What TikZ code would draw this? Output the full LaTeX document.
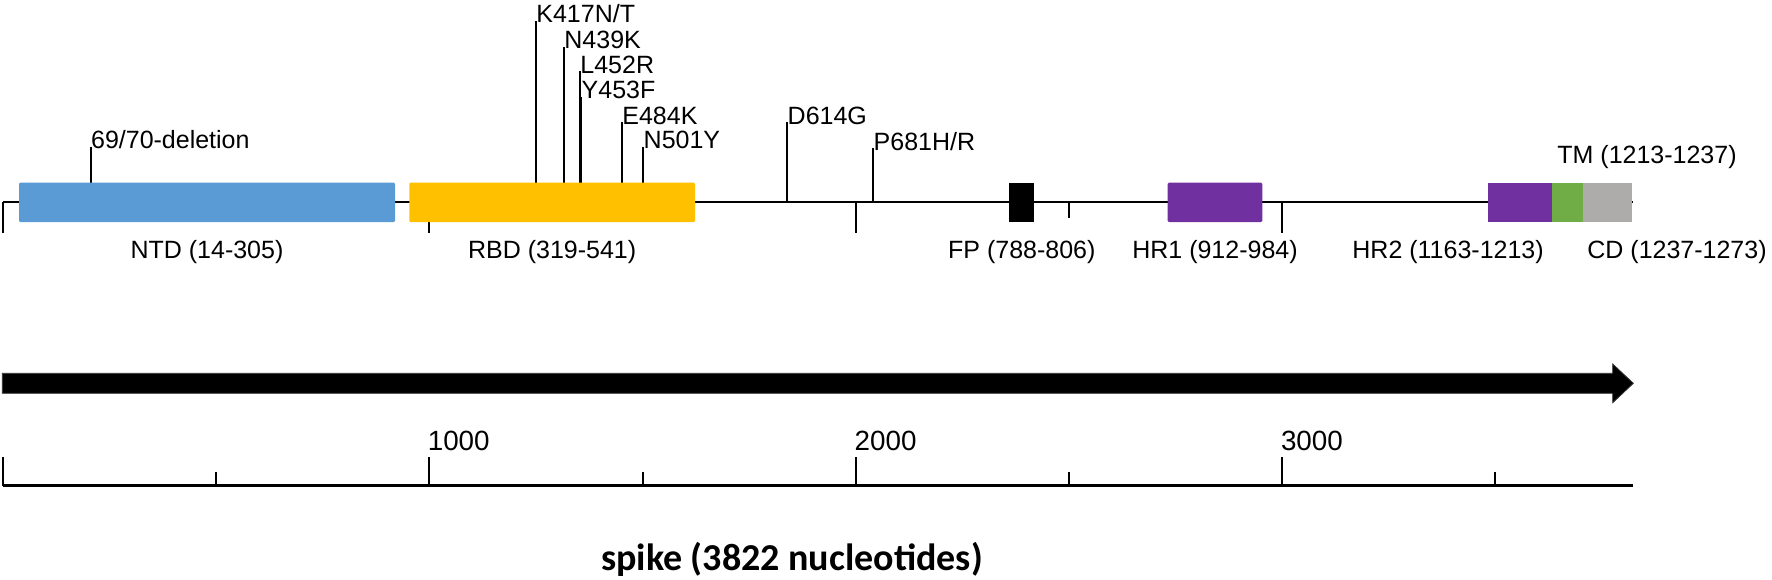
\documentclass[tikz,border=0pt]{standalone}
\usepackage{fontspec}
\setmainfont{Liberation Sans}
\newfontfamily\calib{Carlito}
\definecolor{ntdblue}{HTML}{5B9BD5}
\definecolor{rbdgold}{HTML}{FFC000}
\definecolor{hrpurple}{HTML}{7030A0}
\definecolor{tmgreen}{HTML}{70AD47}
\definecolor{cdgray}{HTML}{AEABAB}
\begin{document}
\begin{tikzpicture}[x=0.5pt,y=-0.5pt,
  lbl/.style={inner sep=0pt, font=\fontsize{12.5pt}{14pt}\selectfont},
  axlbl/.style={inner sep=0pt, anchor=base west, font=\fontsize{13.9pt}{15pt}\selectfont},
  ln/.style={line width=1.15pt},
  tk/.style={line width=1pt},
  dom/.style={rounded corners=0.6pt}]
\useasboundingbox (0,0) rectangle (1772,579);
% protein line
\coordinate (pl0) at (3.3,201.7);
\coordinate (pl1) at (1633,201.7);
\draw[ln] (pl0) -- (pl1);
% top scale ticks
\foreach \i in {0,1,2,3}{
  \coordinate (ta\i) at (3.3+\i*426.1,201.7);
  \coordinate (tb\i) at (3.3+\i*426.1,232.7);
  \draw[tk] (ta\i) -- (tb\i);
  \coordinate (tc\i) at (216.4+\i*426.1,201.7);
  \coordinate (td\i) at (216.4+\i*426.1,217.7);
  \draw[tk] (tc\i) -- (td\i);
}
% mutation ticks and labels
\foreach \x/\ty/\by/\txt/\nm in {
  90.7/146.7/183/{69/70-deletion}/m1,
  536/20.7/183/{K417N/T}/m2,
  564/46.7/183/{N439K}/m3,
  580/71/183/{L452R}/m4,
  581.3/96.7/183/{Y453F}/m5,
  622/122.3/183/{E484K}/m6,
  643.3/146.7/183/{N501Y}/m7,
  787.3/122.3/201.7/{D614G}/m8,
  873.3/148.3/201.7/{P681H/R}/m9}{
  \coordinate (\nm-t) at (\x,\ty);
  \coordinate (\nm-b) at (\x,\by);
  \draw[tk] (\nm-b) -- (\nm-t);
  \node[lbl, anchor=base west] (\nm) at (\x,\ty+2) {\txt};
}
% domains
\fill[dom, ntdblue] (19,182.7) rectangle (395,222);
\fill[dom, rbdgold] (409.3,182.7) rectangle (695,222);
\fill[black] (1009.3,182.7) rectangle (1034.3,222);
\fill[dom, hrpurple] (1167.7,182.7) rectangle (1262.3,222);
\fill[hrpurple] (1488.3,182.7) rectangle (1552.3,222);
\fill[tmgreen] (1552.3,182.7) rectangle (1583.3,222);
\fill[cdgray] (1583.3,182.7) rectangle (1631.7,222);
% domain labels
\node[lbl, anchor=base] (ntd) at (207,258.3) {NTD (14-305)};
\node[lbl, anchor=base] (rbd) at (552.2,258.3) {RBD (319-541)};
\node[lbl, anchor=base] (fp) at (1021.8,258.3) {FP (788-806)};
\node[lbl, anchor=base] (hr1) at (1215,258.3) {HR1 (912-984)};
\node[lbl, anchor=base west] (hr2) at (1352,258.3) {HR2 (1163-1213)};
\node[lbl, anchor=base west] (cd) at (1587,258.3) {CD (1237-1273)};
\node[lbl, anchor=base west] (tm) at (1557,163.3) {TM (1213-1237)};
% big arrow
\filldraw[fill=black, draw=black!80, line width=0.4pt, line join=miter]
  (2.3,373.3) -- (1612.7,373.3) -- (1612.7,364) -- (1633.3,383.3)
  -- (1612.7,402.7) -- (1612.7,393.3) -- (2.3,393.3) -- cycle;
% nucleotide scale
\coordinate (s0) at (3.3,485.7);
\coordinate (s1) at (1632.7,485.7);
\draw[line width=1.3pt] (s0) -- (s1);
\foreach \i in {0,1,2,3}{
  \coordinate (sa\i) at (3.3+\i*426.1,485.7);
  \coordinate (sb\i) at (3.3+\i*426.1,456.7);
  \draw[tk] (sa\i) -- (sb\i);
  \coordinate (sc\i) at (216.4+\i*426.1,485.7);
  \coordinate (sd\i) at (216.4+\i*426.1,471.7);
  \draw[tk] (sc\i) -- (sd\i);
}
\node[axlbl] (k1) at (427.4,450) {1000};
\node[axlbl] (k2) at (854.3,450) {2000};
\node[axlbl] (k3) at (1280.6,450) {3000};
\node[inner sep=0pt, anchor=base, font=\calib\bfseries\fontsize{19pt}{21pt}\selectfont] (title) at (792,570) {spike (3822 nucleotides)};
\end{tikzpicture}
\end{document}
